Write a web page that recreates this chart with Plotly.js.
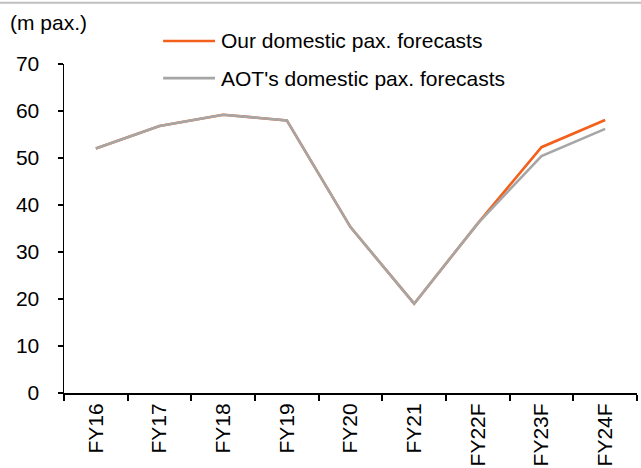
<!DOCTYPE html>
<html>
<head>
<meta charset="utf-8">
<script src="https://cdn.plot.ly/plotly-3.0.1.min.js"></script>
<style>html,body{margin:0;padding:0;background:#fff;}#chart{width:641px;height:468px;}</style>
</head>
<body>
<div id="chart"></div>
<script>
const categories = ["FY16","FY17","FY18","FY19","FY20","FY21","FY22F","FY23F","FY24F"];
const ourForecast = [52.0, 56.8, 59.2, 58.0, 35.3, 19.0, 36.1, 52.3, 58.1];
const aotForecast = [52.0, 56.8, 59.2, 58.0, 35.3, 19.0, 36.1, 50.4, 56.2];
const yTicks = [0,10,20,30,40,50,60,70];
const seriesNames = ["Our domestic pax. forecasts", "AOT's domestic pax. forecasts"];
const colors = ["#f2601c", "#a6a6a6"];

const font = {family: "Arial, 'Liberation Sans', sans-serif", size: 21, color: "#000"};

const traces = [
  {x: categories, y: ourForecast, type: "scatter", mode: "lines", name: seriesNames[0],
   line: {color: colors[0], width: 2.6}, hoverinfo: "skip"},
  {x: categories, y: aotForecast, type: "scatter", mode: "lines", name: seriesNames[1],
   line: {color: colors[1], width: 2.6}, hoverinfo: "skip"}
];

const legX0 = 0.173, legX1 = 0.2635, legTextX = 0.27;
const legY = [1.07, 0.957];

const shapes = [
  {type: "line", xref: "paper", yref: "paper", x0: -0.2, x1: 1.05, y0: 1.186, y1: 1.186,
   line: {color: "#bfbfbf", width: 2}}
];
const annotations = [
  {text: "(m pax.)", xref: "paper", yref: "paper", x: -0.098, y: 1.125, xanchor: "left", yanchor: "middle",
   showarrow: false, font: font}
];
seriesNames.forEach((n, i) => {
  shapes.push({type: "line", xref: "paper", yref: "paper", x0: legX0, x1: legX1, y0: legY[i], y1: legY[i],
    line: {color: colors[i], width: 2.6}});
  annotations.push({text: n, xref: "paper", yref: "paper", x: legTextX, y: legY[i], xanchor: "left", yanchor: "middle",
    showarrow: false, font: font});
});

const layout = {
  width: 641, height: 468,
  margin: {l: 64, r: 4, t: 64, b: 75},
  paper_bgcolor: "#fff", plot_bgcolor: "#fff",
  font: font,
  showlegend: false,
  xaxis: {
    type: "category", tickangle: -90, tickson: "boundaries",
    ticks: "outside", ticklen: 6, tickwidth: 2, tickcolor: "#000",
    showline: true, linecolor: "#000", linewidth: 2,
    showgrid: false, zeroline: false, tickfont: font,
    range: [-0.5, 8.5], fixedrange: true
  },
  yaxis: {
    range: [0, 70], tickvals: yTicks, ticks: "outside", ticklen: 5, tickwidth: 1.5, tickcolor: "#000",
    showline: true, linecolor: "#000", linewidth: 1.5,
    showgrid: false, zeroline: false, tickfont: font, ticklabelstandoff: 14, fixedrange: true
  },
  shapes: shapes,
  annotations: annotations
};

Plotly.newPlot("chart", traces, layout, {displayModeBar: false, staticPlot: true});
</script>
</body>
</html>
